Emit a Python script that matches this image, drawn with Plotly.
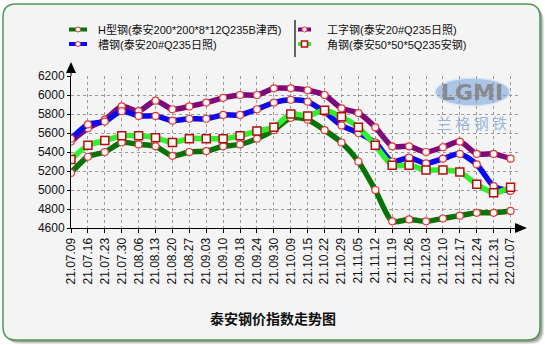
import plotly.graph_objects as go

# Weekly price index, Tai'an steel market (yuan/ton)
dates = ["21.07.09", "21.07.16", "21.07.23", "21.07.30", "21.08.06", "21.08.13",
         "21.08.20", "21.08.27", "21.09.03", "21.09.10", "21.09.18", "21.09.24",
         "21.09.30", "21.10.09", "21.10.15", "21.10.22", "21.10.29", "21.11.05",
         "21.11.12", "21.11.19", "21.11.26", "21.12.03", "21.12.10", "21.12.17",
         "21.12.24", "21.12.31", "22.01.07"]
h_beam = [5180, 5350, 5400, 5500, 5480, 5460, 5360, 5400, 5410, 5460, 5480, 5540,
          5630, 5760, 5740, 5630, 5500, 5300, 5000, 4670, 4690, 4670, 4700, 4730,
          4760, 4760, 4780]
i_beam = [5510, 5650, 5740, 5880, 5830, 5940, 5850, 5880, 5920, 5970, 6000, 6000,
          6070, 6070, 6050, 6000, 5860, 5810, 5660, 5460, 5460, 5400, 5450, 5510,
          5380, 5380, 5330]
channel = [5540, 5690, 5720, 5830, 5780, 5780, 5730, 5750, 5750, 5790, 5790, 5850,
           5920, 5950, 5930, 5820, 5680, 5600, 5500, 5300, 5340, 5280, 5330, 5380,
           5270, 5040, 4990]
angle = [5320, 5470, 5520, 5570, 5570, 5550, 5500, 5540, 5540, 5540, 5570, 5620,
         5660, 5800, 5780, 5840, 5770, 5660, 5470, 5260, 5260, 5210, 5210, 5190,
         5060, 4970, 5030]

names = ["H型钢(泰安200*200*8*12Q235B津西)", "工字钢(泰安20#Q235日照)",
         "槽钢(泰安20#Q235日照)", "角钢(泰安50*50*5Q235安钢)"]
title_text = "泰安钢价指数走势图"
y_ticks = [4600, 4800, 5000, 5200, 5400, 5600, 5800, 6000, 6200]

W, H = 545, 345
PL, PR, PT, PB = 71, 519, 76, 228   # plot area in pixels


def px(x):
    return (x - PL) / (PR - PL)


def py(y):
    return (PB - y) / (PB - PT)


FONT = "Liberation Sans, Arial, Noto Sans CJK SC, sans-serif"
CJK = "Noto Sans CJK SC, Liberation Sans, sans-serif"

styles = [
    dict(color="#067306", symbol="circle", msize=7, mline="#e03a3a", mw=1.2),
    dict(color="#7d0a7d", symbol="circle", msize=7, mline="#e03a3a", mw=1.2),
    dict(color="#0a0af0", symbol="circle", msize=7, mline="#e03a3a", mw=1.2),
    dict(color="#2ef02e", symbol="square", msize=8, mline="#b01010", mw=1.5),
]
series = [h_beam, i_beam, channel, angle]

fig = go.Figure()
for name, vals, st in zip(names, series, styles):
    fig.add_trace(go.Scatter(
        x=dates, y=vals, name=name, mode="lines+markers",
        line=dict(color=st["color"], width=5.5, shape="spline", smoothing=0.7),
        marker=dict(symbol=st["symbol"], size=st["msize"], color="#fff6f6",
                    line=dict(color=st["mline"], width=st["mw"])),
        showlegend=False,
    ))

shapes = []


def rounded(x0, y0, x1, y1, r):
    return (f"M {px(x0 + r)} {py(y0)} L {px(x1 - r)} {py(y0)} "
            f"Q {px(x1)} {py(y0)} {px(x1)} {py(y0 + r)} "
            f"L {px(x1)} {py(y1 - r)} Q {px(x1)} {py(y1)} {px(x1 - r)} {py(y1)} "
            f"L {px(x0 + r)} {py(y1)} Q {px(x0)} {py(y1)} {px(x0)} {py(y1 - r)} "
            f"L {px(x0)} {py(y0 + r)} Q {px(x0)} {py(y0)} {px(x0 + r)} {py(y0)} Z")


# card shadow and card
for off, alpha in [(4, 0.10), (3, 0.14), (2, 0.18)]:
    shapes.append(dict(type="path", xref="paper", yref="paper", layer="below",
                       path=rounded(3 + off, 4 + off, 540 + off, 340 + off, 13),
                       fillcolor=f"rgba(0,0,0,{alpha})", line=dict(width=0)))
shapes.append(dict(type="path", xref="paper", yref="paper", layer="below",
                   path=rounded(3, 4, 540, 340, 13),
                   fillcolor="#f4f4f4", line=dict(color="#4d9a4d", width=1.5)))

# logo ellipse
shapes.append(dict(type="circle", xref="paper", yref="paper", layer="below",
                   x0=px(435), x1=px(510), y0=py(106), y1=py(78),
                   fillcolor="#abc5e6", line=dict(color="#dce8f5", width=1.5)))

# axis arrows
shapes.append(dict(type="path", xref="paper", yref="paper",
                   path=f"M {px(66)} {py(73)} L {px(76)} {py(73)} L {px(71)} {py(62)} Z",
                   fillcolor="black", line=dict(width=0)))
shapes.append(dict(type="line", xref="paper", yref="paper",
                   x0=px(71), x1=px(71), y0=py(76), y1=py(72),
                   line=dict(color="black", width=1)))
shapes.append(dict(type="path", xref="paper", yref="paper",
                   path=f"M {px(515)} {py(223)} L {px(527)} {py(228)} L {px(515)} {py(233)} Z",
                   fillcolor="black", line=dict(width=0)))

# legend separator
shapes.append(dict(type="line", xref="paper", yref="paper",
                   x0=px(295), x1=px(295), y0=py(20), y1=py(57),
                   line=dict(color="#333333", width=1.5)))

annotations = []
legend_pos = [(69, 87, 96, 29.5), (298, 311, 325, 29.5),
              (69, 87, 96, 44), (298, 311, 325, 44)]
for (lx0, lx1, tx, ly), name, st in zip(legend_pos, names, styles):
    shapes.append(dict(type="line", xref="paper", yref="paper",
                       x0=px(lx0), x1=px(lx1), y0=py(ly), y1=py(ly),
                       line=dict(color=st["color"], width=4)))
    cx = (lx0 + lx1) / 2
    if st["symbol"] == "square":
        shapes.append(dict(type="rect", xref="paper", yref="paper",
                           x0=px(cx - 3), x1=px(cx + 3), y0=py(ly + 3), y1=py(ly - 3),
                           fillcolor="#fff6f6", line=dict(color=st["mline"], width=1.5)))
    else:
        shapes.append(dict(type="circle", xref="paper", yref="paper",
                           x0=px(cx - 2.5), x1=px(cx + 2.5), y0=py(ly + 2.5), y1=py(ly - 2.5),
                           fillcolor="#fff6f6", line=dict(color=st["mline"], width=1)))
    annotations.append(dict(xref="paper", yref="paper", x=px(tx), y=py(ly),
                            xanchor="left", yanchor="middle", text=name, showarrow=False,
                            font=dict(family=FONT, size=11, color="#111111")))

annotations.append(dict(xref="paper", yref="paper", x=px(273), y=py(318),
                        xanchor="center", yanchor="middle", showarrow=False,
                        text=f"<b>{title_text}</b>",
                        font=dict(family=CJK, size=14, color="#111111")))
annotations.append(dict(xref="paper", yref="paper", x=px(472), y=py(92),
                        xanchor="center", yanchor="middle", showarrow=False,
                        text="<b>LGMI</b>",
                        font=dict(family="DejaVu Sans, sans-serif", size=22,
                                  color="rgba(130,130,130,0.9)")))
annotations.append(dict(xref="paper", yref="paper", x=px(472), y=py(122),
                        xanchor="center", yanchor="middle", showarrow=False,
                        text="兰 格 钢 铁",
                        font=dict(family=CJK, size=15, color="rgba(140,172,212,0.9)")))

fig.update_layout(
    width=W, height=H,
    margin=dict(l=PL, r=W - PR, t=PT, b=H - PB, pad=0),
    paper_bgcolor="white", plot_bgcolor="rgba(0,0,0,0)",
    font=dict(family=FONT, size=12, color="#111111"),
    shapes=shapes, annotations=annotations,
    showlegend=False,
)
fig.update_xaxes(
    type="category", range=[0, 26.5], showline=True, linecolor="black", linewidth=1,
    ticks="outside", ticklen=4, tickcolor="black", tickangle=-90,
    tickfont=dict(family=FONT, size=12, color="#111111"),
    showgrid=True, gridcolor="#9a9a9a", griddash="dot", gridwidth=1, zeroline=False,
)
fig.update_yaxes(
    range=[4600, 6200], tickvals=y_ticks, showline=True, linecolor="black", linewidth=1,
    ticks="outside", ticklen=3, tickcolor="black",
    tickfont=dict(family=FONT, size=12, color="#111111"),
    showgrid=True, gridcolor="#9a9a9a", griddash="dot", gridwidth=1, zeroline=False,
)

fig.write_html("out.html")
